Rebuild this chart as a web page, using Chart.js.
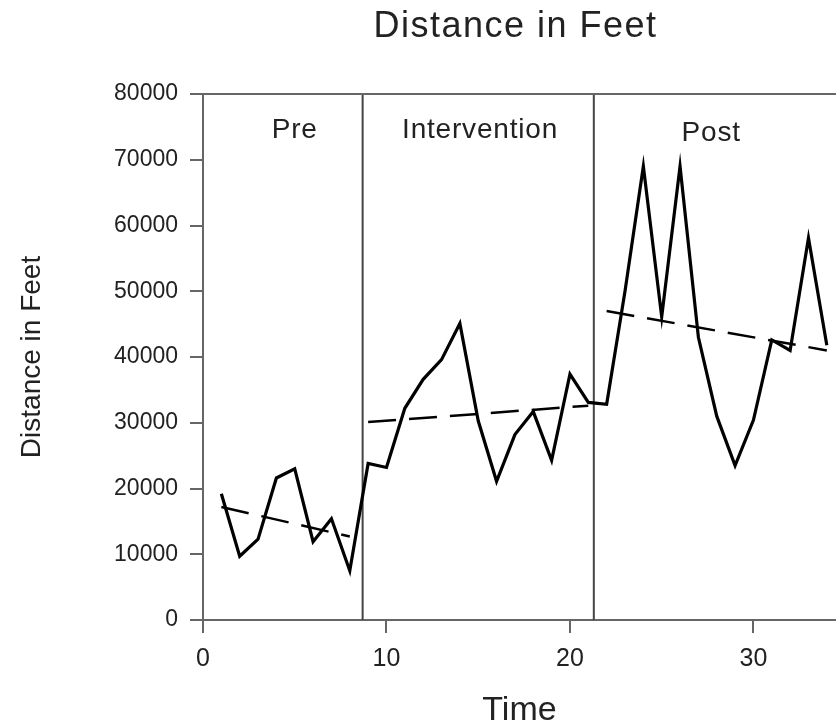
<!DOCTYPE html>
<html>
<head>
<meta charset="utf-8">
<script src="https://cdn.jsdelivr.net/npm/chart.js@4.4.1/dist/chart.umd.min.js"></script>
<style>
    html, body { margin: 0; padding: 0; background: #fff; }
    #wrap { width: 836px; height: 728px; }
</style>
</head>
<body>
<div id="wrap"><canvas id="distanceChart" width="836" height="728"></canvas></div>
<script>
// Data
var timePoints = [1, 2, 3, 4, 5, 6, 7, 8, 9, 10, 11, 12, 13, 14, 15, 16, 17,
                  18, 19, 20, 21, 22, 23, 24, 25, 26, 27, 28, 29, 30, 31, 32, 33, 34];
var distanceFeet = [19200, 9700, 12300, 21600, 23000, 11900, 15400, 7500, 23800, 23200,
                    32200, 36600, 39600, 45100, 30300, 21100, 28200, 31700, 24300, 37400,
                    33100, 32800, 50000, 69000, 46100, 69000, 43000, 31000, 23500, 30400,
                    42600, 41000, 58100, 41800];

// Trend lines per phase (end points)
var preTrendX = [1, 8];
var preTrendY = [17200, 12700];
var intTrendX = [9, 21];
var intTrendY = [30100, 32600];
var postTrendX = [22, 34];
var postTrendY = [47000, 41000];

// Phase change lines and labels
var phaseBreaks = [8.7, 21.3];
var phaseNames = ['Pre', 'Intervention', 'Post'];
var phaseLabelX = [5, 15.1, 27.7];
var phaseLabelY = [74500, 74500, 74000];

var xTicks = [0, 10, 20, 30];
var yTicks = [0, 10000, 20000, 30000, 40000, 50000, 60000, 70000, 80000];

var fontFamily = "'Liberation Sans', Arial, sans-serif";
var textColor = '#222';
var axisGray = '#666';

function toPoints(xs, ys) {
    return xs.map(function (x, i) { return { x: x, y: ys[i] }; });
}

var datasets = [{
    label: 'Distance',
    data: toPoints(timePoints, distanceFeet),
    borderColor: '#000',
    borderWidth: 3.2,
    showLine: true,
    pointRadius: 0,
    tension: 0
}];

[[preTrendX, preTrendY], [intTrendX, intTrendY], [postTrendX, postTrendY]].forEach(function (t) {
    datasets.push({
        data: toPoints(t[0], t[1]),
        borderColor: '#000',
        borderWidth: 2.5,
        borderDash: [28, 13],
        showLine: true,
        pointRadius: 0
    });
});

phaseBreaks.forEach(function (b) {
    datasets.push({
        data: [{ x: b, y: yTicks[0] }, { x: b, y: yTicks[yTicks.length - 1] }],
        borderColor: '#444',
        borderWidth: 2,
        showLine: true,
        pointRadius: 0
    });
});

// Title, top frame line and phase labels
var extrasPlugin = {
    id: 'extras',
    afterDraw: function (chart) {
        var ctx = chart.ctx;
        var area = chart.chartArea;
        var xs = chart.scales.x, ys = chart.scales.y;
        ctx.save();
        ctx.strokeStyle = axisGray;
        ctx.lineWidth = 2;
        ctx.beginPath();
        ctx.moveTo(area.left, area.top);
        ctx.lineTo(area.right, area.top);
        ctx.stroke();

        ctx.fillStyle = textColor;
        ctx.textAlign = 'center';
        ctx.textBaseline = 'middle';
        ctx.font = '36px ' + fontFamily;
        ctx.letterSpacing = '1.5px';
        ctx.fillText('Distance in Feet', (area.left + area.right) / 2 - 4, 27);

        ctx.font = '28px ' + fontFamily;
        ctx.letterSpacing = '0.8px';
        phaseNames.forEach(function (name, i) {
            ctx.fillText(name, xs.getPixelForValue(phaseLabelX[i]), ys.getPixelForValue(phaseLabelY[i]));
        });
        ctx.letterSpacing = '0px';
        ctx.restore();
    }
};

new Chart(document.getElementById('distanceChart'), {
    type: 'scatter',
    data: { datasets: datasets },
    plugins: [extrasPlugin],
    options: {
        responsive: false,
        animation: false,
        events: [],
        layout: { padding: { top: 94, left: 0, right: 0, bottom: 0 } },
        plugins: {
            legend: { display: false },
            tooltip: { enabled: false }
        },
        scales: {
            x: {
                type: 'linear',
                min: 0,
                max: 34.5,
                afterBuildTicks: function (s) { s.ticks = xTicks.map(function (v) { return { value: v }; }); },
                afterFit: function (s) { s.height = 108; },
                grid: { drawOnChartArea: false, drawTicks: true, tickLength: 13, color: axisGray, lineWidth: 2 },
                border: { display: true, color: axisGray, width: 2 },
                ticks: { color: textColor, padding: 11, font: { family: fontFamily, size: 25 } },
                title: {
                    display: true,
                    text: 'Time',
                    color: textColor,
                    font: { family: fontFamily, size: 34, lineHeight: 1 },
                    padding: { top: 0, bottom: 0 }
                }
            },
            y: {
                min: 0,
                max: 80000,
                afterBuildTicks: function (s) { s.ticks = yTicks.map(function (v) { return { value: v }; }); },
                afterFit: function (s) { s.width = 203; },
                grid: { drawOnChartArea: false, drawTicks: true, tickLength: 13, color: axisGray, lineWidth: 2 },
                border: { display: true, color: axisGray, width: 2 },
                ticks: {
                    color: textColor,
                    padding: 12,
                    font: { family: fontFamily, size: 23 },
                    callback: function (value) { return String(value); }
                },
                title: {
                    display: true,
                    text: 'Distance in Feet',
                    color: textColor,
                    font: { family: fontFamily, size: 28 },
                    padding: { top: 15, bottom: 0 }
                }
            }
        }
    }
});
</script>
</body>
</html>
